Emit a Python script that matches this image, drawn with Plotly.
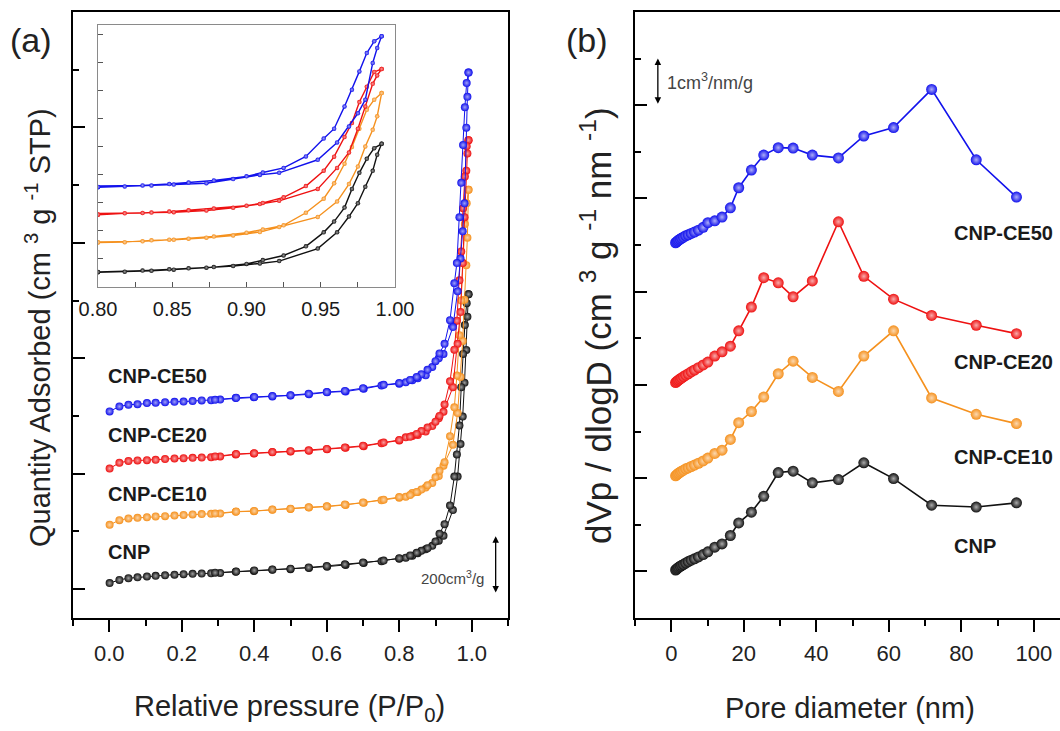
import plotly.graph_objects as go

# ---------------- (a) N2 isotherms, curves offset vertically ----------------
# relative pressure, adsorption branch (rising) and desorption branch (falling)
p_ads = [0.001, 0.028, 0.053, 0.078, 0.104, 0.128, 0.154, 0.180, 0.205, 0.230,
         0.255, 0.281, 0.306, 0.349, 0.399, 0.450, 0.500, 0.551, 0.601, 0.652,
         0.702, 0.751, 0.800, 0.818, 0.836, 0.851, 0.873, 0.891, 0.909, 0.922,
         0.948, 0.961, 0.969, 0.975, 0.980, 0.985, 0.988, 0.991]
p_des = [0.991, 0.986, 0.981, 0.976, 0.971, 0.966, 0.959, 0.952, 0.940, 0.925,
         0.911, 0.900, 0.878, 0.861, 0.848, 0.830, 0.800, 0.757, 0.700, 0.650,
         0.600, 0.550, 0.500, 0.450, 0.400, 0.350, 0.292]

cnp_ads = [21, 32, 38, 41, 44, 46, 48, 50, 52, 53, 54, 55, 56, 60, 63, 67, 69, 73,
           78, 84, 91, 97, 105, 109, 116, 124, 138, 150, 168, 185, 274, 390, 503,
           598, 715, 829, 944, 1022]
cnp_des = [1022, 991, 915, 815, 700, 567, 467, 390, 290, 225, 192, 165, 142, 133,
           126, 117, 107, 99, 92, 86, 80, 75, 71, 68, 65, 61, 57]

ce10_ads = [223, 239, 245, 247, 249, 252, 253, 255, 257, 259, 260, 261, 262, 268,
            270, 275, 278, 283, 286, 292, 299, 308, 317, 320, 333, 337, 352, 368,
            392, 428, 500, 610, 735, 860, 1003, 1122, 1218, 1384]
ce10_des = [1384, 1337, 1265, 1130, 1000, 880, 740, 630, 530, 440, 410, 388, 360,
            345, 337, 326, 319, 310, 300, 293, 287, 284, 279, 276, 271, 269, 262]

ce20_ads = [418, 438, 444, 446, 447, 448, 451, 453, 454, 455, 456, 457, 460, 467,
            470, 474, 477, 480, 485, 490, 495, 506, 515, 526, 531, 534, 546, 565,
            592, 615, 700, 850, 960, 1130, 1289, 1450, 1510, 1556]
ce20_des = [1556, 1535, 1430, 1320, 1170, 1070, 930, 830, 720, 640, 600, 580, 560,
            548, 538, 528, 517, 508, 497, 491, 486, 481, 478, 475, 471, 468, 460]

ce50_ads = [616, 633, 639, 641, 645, 646, 648, 649, 650, 652, 654, 655, 657, 662,
            665, 668, 671, 675, 682, 685, 694, 706, 712, 717, 724, 731, 741, 770,
            800, 815, 908, 1032, 1146, 1240, 1337, 1599, 1706, 1790]
ce50_des = [1790, 1754, 1670, 1539, 1408, 1289, 1130, 1060, 932, 850, 817, 790,
            760, 745, 735, 725, 714, 708, 696, 687, 683, 677, 672, 669, 666, 663, 656]

# ---------------- (b) pore size distributions, curves offset ----------------
pore_d = [1.2, 1.5, 1.8, 2.1, 2.5, 2.9, 3.4, 4.0, 4.7, 5.5, 6.4, 7.5, 8.8, 10.1,
          12.0, 14.0, 16.3, 18.6, 22.1, 25.5, 29.5, 33.6, 38.9, 46.1, 53.1, 61.3,
          71.8, 84.1, 95.2]
psd_cnp = [0.03, 0.05, 0.07, 0.09, 0.11, 0.13, 0.15, 0.18, 0.21, 0.24, 0.27, 0.31,
           0.36, 0.42, 0.52, 0.59, 0.77, 1.04, 1.27, 1.61, 2.12, 2.15, 1.90, 1.97,
           2.33, 1.99, 1.42, 1.38, 1.47]
psd_ce10 = [2.05, 2.07, 2.09, 2.11, 2.13, 2.15, 2.17, 2.20, 2.22, 2.25, 2.28, 2.32,
            2.37, 2.43, 2.53, 2.60, 2.83, 3.19, 3.43, 3.74, 4.24, 4.51, 4.16, 3.86,
            4.62, 5.16, 3.72, 3.37, 3.17]
psd_ce20 = [4.05, 4.07, 4.09, 4.11, 4.13, 4.15, 4.18, 4.21, 4.24, 4.28, 4.32, 4.37,
            4.43, 4.49, 4.62, 4.71, 4.83, 5.16, 5.67, 6.30, 6.19, 5.89, 6.23, 7.50,
            6.33, 5.84, 5.49, 5.28, 5.10]
psd_ce50 = [7.05, 7.07, 7.09, 7.11, 7.13, 7.15, 7.17, 7.20, 7.22, 7.25, 7.28, 7.32,
            7.38, 7.48, 7.52, 7.60, 7.80, 8.23, 8.61, 8.93, 9.09, 9.08, 8.93, 8.87,
            9.34, 9.52, 10.34, 8.83, 8.03]

names = ["CNP", "CNP-CE10", "CNP-CE20", "CNP-CE50"]
colors = ["#111111", "#f5911e", "#ee1111", "#1212ec"]

FONT = "Liberation Sans, Arial, sans-serif"


def lighten(hex_color, f):
    r, g, b = (int(hex_color[i:i + 2], 16) for i in (1, 3, 5))
    r, g, b = (int(c + (255 - c) * f) for c in (r, g, b))
    return f"#{r:02x}{g:02x}{b:02x}"


fig = go.Figure()

isotherms = [(cnp_ads, cnp_des), (ce10_ads, ce10_des),
             (ce20_ads, ce20_des), (ce50_ads, ce50_des)]

for (ads, des), c in zip(isotherms, colors):
    xs = p_ads + p_des
    ys = ads + des
    # main panel
    fig.add_trace(go.Scatter(
        x=xs, y=ys, xaxis="x", yaxis="y", mode="lines+markers",
        line=dict(color=c, width=1),
        marker=dict(size=8, color=c, line=dict(width=0),
                    gradient=dict(type="radial", color=lighten(c, 0.6))),
        showlegend=False, hoverinfo="skip"))
    # inset (high-pressure zoom)
    fig.add_trace(go.Scatter(
        x=xs, y=ys, xaxis="x3", yaxis="y3", mode="lines+markers",
        line=dict(color=c, width=1.4),
        marker=dict(size=4.5, color=c, line=dict(width=0),
                    gradient=dict(type="radial", color=lighten(c, 0.6))),
        showlegend=False, hoverinfo="skip"))

for ys, c in zip([psd_cnp, psd_ce10, psd_ce20, psd_ce50], colors):
    fig.add_trace(go.Scatter(
        x=pore_d, y=ys, xaxis="x2", yaxis="y2", mode="lines+markers",
        line=dict(color=c, width=1.6),
        marker=dict(size=11, color=c, line=dict(width=0),
                    gradient=dict(type="radial", color=lighten(c, 0.65))),
        showlegend=False, hoverinfo="skip"))

W, H = 1060, 731


def px_x(v):
    return v / W


def px_y(v):
    return (H - v) / H


tickfont = dict(family=FONT, size=22, color="#222222")

frame = dict(showline=True, linecolor="black", linewidth=2, showgrid=False,
             zeroline=False, tickcolor="black", tickwidth=2, automargin=False)

fig.update_layout(
    width=W, height=H, autosize=False,
    margin=dict(l=0, r=0, t=0, b=0, pad=0),
    paper_bgcolor="white", plot_bgcolor="white",
    xaxis=dict(domain=[px_x(73), px_x(508)], anchor="y", range=[-0.1, 1.1],
               tick0=0, dtick=0.2, tickformat=".1f", ticks="outside", ticklen=12,
               mirror=True, tickfont=tickfont, ticklabelstandoff=3,
               minor=dict(dtick=0.1, tick0=0, ticks="outside", ticklen=6,
                          tickwidth=2, tickcolor="black"),
               **frame),
    yaxis=dict(domain=[px_y(618), px_y(12)], anchor="x", range=[-100, 2000],
               tick0=0, dtick=400, ticks="inside", ticklen=12, mirror=True,
               showticklabels=False,
               minor=dict(dtick=200, tick0=0, ticks="inside", ticklen=6,
                          tickwidth=2, tickcolor="black"),
               **frame),
    xaxis2=dict(domain=[px_x(635), 1.0], anchor="y2", range=[-10, 107.2],
                tick0=0, dtick=20, ticks="outside", ticklen=12, mirror=True,
                tickfont=tickfont, ticklabelstandoff=3,
                minor=dict(dtick=10, tick0=0, ticks="outside", ticklen=6,
                           tickwidth=2, tickcolor="black"),
                **frame),
    yaxis2=dict(domain=[px_y(618), px_y(12)], anchor="x2", range=[-1, 12],
                tick0=0, dtick=2, ticks="inside", ticklen=12, mirror=False,
                showticklabels=False,
                minor=dict(dtick=1, tick0=0, ticks="inside", ticklen=6,
                           tickwidth=2, tickcolor="black"),
                **frame),
    xaxis3=dict(domain=[px_x(98), px_x(395)], anchor="y3", range=[0.8, 1.0],
                tick0=0.8, dtick=0.05, tickformat=".2f", ticks="inside", ticklen=5,
                showline=True, linecolor="#8a8a8a", linewidth=1.2, mirror=True,
                tickcolor="#555555", tickwidth=1, showgrid=False, zeroline=False,
                automargin=False,
                tickfont=dict(family=FONT, size=20, color="#1a1a1a"),
                ticklabelstandoff=4,
                minor=dict(dtick=0.025, tick0=0.8, ticks="inside", ticklen=5,
                           tickwidth=1, tickcolor="#555555")),
    yaxis3=dict(domain=[px_y(287), px_y(25)], anchor="x3", range=[0, 1870],
                tick0=0, dtick=200, ticks="inside", ticklen=5,
                showline=True, linecolor="#8a8a8a", linewidth=1.2, mirror=True,
                tickcolor="#555555", tickwidth=1, showgrid=False, zeroline=False,
                automargin=False, showticklabels=False),
)


def paper_text(text, x, y, size, angle=0):
    return dict(text=text, x=px_x(x), y=px_y(y), xref="paper", yref="paper",
                xanchor="center", yanchor="middle", showarrow=False,
                textangle=angle, font=dict(family=FONT, size=size, color="#222222"))


annotations = [
    paper_text("Relative pressure (P/P<sub>0</sub>)", 289, 708, 29),
    paper_text("Pore diameter (nm)", 850, 708, 29),
    paper_text("Quantity Adsorbed (cm <sup>3</sup> g <sup>-1</sup> STP)", 38, 328, 29, -90),
    paper_text("dVp / dlogD (cm <sup>3</sup> g <sup>-1</sup> nm <sup>-1</sup>)", 596, 326, 35, -90),
    paper_text("(a)", 31, 40, 34),
    paper_text("(b)", 587, 40, 34),
]

# series labels, panel (a)
label_pos_a = [128, 331, 535, 738]
for name, yv in zip(names, label_pos_a):
    annotations.append(dict(
        text=f"<b>{name}</b>", x=-0.008, y=yv, xref="x", yref="y",
        xanchor="left", yanchor="middle", showarrow=False,
        font=dict(family=FONT, size=20, color="#1a1a1a")))

# series labels, panel (b)
label_pos_b = [0.55, 2.46, 4.5, 7.25]
for name, yv in zip(names, label_pos_b):
    annotations.append(dict(
        text=f"<b>{name}</b>", x=77.5, y=yv, xref="x2", yref="y2",
        xanchor="left", yanchor="middle", showarrow=False,
        font=dict(family=FONT, size=20, color="#1a1a1a")))

# scale bars
annotations += [
    dict(x=1.066, y=183, ax=1.066, ay=-17, xref="x", yref="y", axref="x", ayref="y",
         text="", showarrow=True, arrowhead=2, startarrowhead=2, arrowside="end+start",
         arrowsize=1, arrowwidth=1.3, arrowcolor="black"),
    dict(text="200cm<sup>3</sup>/g", x=1.039, y=41, xref="x", yref="y",
         xanchor="right", yanchor="middle", showarrow=False,
         font=dict(family=FONT, size=15, color="#444444")),
    dict(x=-3.7, y=11, ax=-3.7, ay=10, xref="x2", yref="y2", axref="x2", ayref="y2",
         text="", showarrow=True, arrowhead=2, startarrowhead=2, arrowside="end+start",
         arrowsize=1, arrowwidth=1.3, arrowcolor="black"),
    dict(text="1cm<sup>3</sup>/nm/g", x=-1.6, y=10.5, xref="x2", yref="y2",
         xanchor="left", yanchor="middle", showarrow=False,
         font=dict(family=FONT, size=18, color="#444444")),
]

fig.update_layout(annotations=annotations)

fig.write_html("out.html")
